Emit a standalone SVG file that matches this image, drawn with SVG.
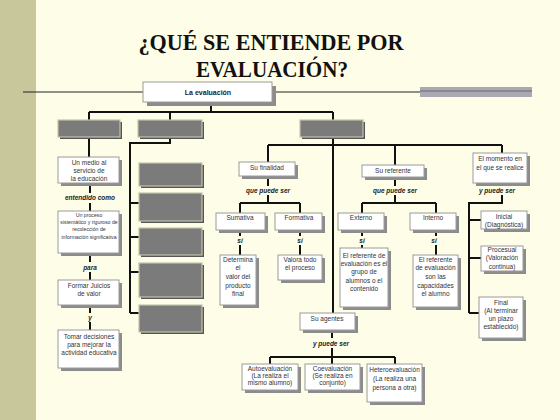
<svg xmlns="http://www.w3.org/2000/svg" width="560" height="420" viewBox="0 0 560 420">
<style>
.bg{fill:#FEFEE8}
.side{fill:#C8C79B}
.title{font-family:"Liberation Serif","Times New Roman",serif;font-weight:bold;font-size:24px;fill:#111;text-anchor:middle}
.wb{fill:#fff;stroke:#9a9a9a;stroke-width:1}
.sh{fill:#8c8c8c}
.gb{fill:#7b7b7b;stroke:#c4c3a8;stroke-width:1.2}
.gsh{fill:#555}
.t{font-family:"Liberation Sans",Arial,sans-serif;font-size:6.5px;fill:#333;text-anchor:middle}
.ts{font-family:"Liberation Sans",Arial,sans-serif;font-size:5.2px;fill:#333;text-anchor:middle}
.tb{font-family:"Liberation Sans",Arial,sans-serif;font-size:7px;font-weight:bold;fill:#222;text-anchor:middle}
.lab{font-family:"Liberation Sans",Arial,sans-serif;font-size:6.5px;font-weight:bold;font-style:italic;fill:#222;text-anchor:middle}
.c{fill:none;stroke:#111;stroke-width:2}
</style>
<rect class="bg" x="0" y="0" width="560" height="420"/>
<rect class="side" x="0" y="0" width="36" height="420"/>
<text class="title" x="271" y="50" textLength="265" lengthAdjust="spacingAndGlyphs">¿QUÉ SE ENTIENDE POR</text>
<text class="title" x="272" y="77" textLength="152" lengthAdjust="spacingAndGlyphs">EVALUACIÓN?</text>
<g id="rule">
<line x1="23" y1="92" x2="143" y2="92" stroke="#222" stroke-width="1.2"/>
<line x1="272" y1="92" x2="420" y2="92" stroke="#222" stroke-width="1.2"/>
<rect x="420" y="87" width="112" height="10" fill="#A9A9B4"/>
<line x1="420" y1="91" x2="532" y2="91" stroke="#555" stroke-width="0.8"/>
</g>
<g id="connectors">
<path class="c" d="M211 102V112M89 112H333M89 112V120M170 112V120M333 112V120"/>
<path class="c" d="M89 137V157"/>
<path class="c" d="M170 137V143H130V313M130 203H139M130 237H139M130 272H139M130 313H139"/>
<path class="c" d="M333 137V313"/>
<path class="c" d="M268 145H502M268 145V162M395 145V165M502 145V153"/>
<path class="c" d="M268 176V186M268 195V203M240 203H300M240 203V213M300 203V213"/>
<path class="c" d="M240 230V236M240 245V255M300 230V236M300 245V255"/>
<path class="c" d="M395 177V186M395 195V203M362 203H436M362 203V213M436 203V213"/>
<path class="c" d="M362 230V236M362 245V248M436 230V236M436 245V255"/>
<path class="c" d="M502 183V186M502 195V203H469V313M469 220H481M469 258H481M469 313H479"/>
<path class="c" d="M332 330V338M332 348V357M270 357H395M270 357V364M332 357V364M395 357V364"/>
<path class="c" d="M90 183V193M90 203V211M90 253V262M90 272V280M90 305V313M90 322V330"/>
</g>
<g id="labels">
<text class="lab" x="268" y="193">que puede ser</text>
<text class="lab" x="240" y="243">sí</text>
<text class="lab" x="300" y="243">sí</text>
<text class="lab" x="395" y="193">que puede ser</text>
<text class="lab" x="362" y="243">sí</text>
<text class="lab" x="434" y="243">sí</text>
<text class="lab" x="497" y="193">y puede ser</text>
<text class="lab" x="331" y="346">y puede ser</text>
<text class="lab" x="90" y="200">entendido como</text>
<text class="lab" x="90" y="270">para</text>
<text class="lab" x="90" y="320">y</text>
</g>
<g id="n-evaluacion">
<rect class="sh" x="147" y="86" width="129" height="20"/>
<rect class="wb" x="143" y="82" width="129" height="20"/>
<text class="tb" x="208" y="95">La evaluación</text>
</g>
<g id="g-top1"><rect class="gsh" x="60" y="122" width="62" height="17"/><rect class="gb" x="58" y="120" width="62" height="17"/></g>
<g id="g-top2"><rect class="gsh" x="140" y="122" width="64" height="17"/><rect class="gb" x="138" y="120" width="64" height="17"/></g>
<g id="g-top3"><rect class="gsh" x="302" y="122" width="63" height="17"/><rect class="gb" x="300" y="120" width="63" height="17"/></g>
<g id="g-a"><rect class="gsh" x="141" y="165" width="63" height="23"/><rect class="gb" x="139" y="163" width="63" height="23"/></g>
<g id="g-b"><rect class="gsh" x="141" y="195" width="63" height="28"/><rect class="gb" x="139" y="193" width="63" height="28"/></g>
<g id="g-c"><rect class="gsh" x="141" y="230" width="63" height="27"/><rect class="gb" x="139" y="228" width="63" height="27"/></g>
<g id="g-d"><rect class="gsh" x="141" y="265" width="63" height="34"/><rect class="gb" x="139" y="263" width="63" height="34"/></g>
<g id="g-e"><rect class="gsh" x="141" y="307" width="63" height="27"/><rect class="gb" x="139" y="305" width="63" height="27"/></g>
<g id="n-medio">
<rect class="sh" x="61" y="160" width="61" height="26"/><rect class="wb" x="58" y="157" width="61" height="26"/>
<text class="t" x="89" y="164.5">Un medio al</text><text class="t" x="89" y="172.5">servicio de</text><text class="t" x="89" y="180.5">la educación</text>
</g>
<g id="n-proceso">
<rect class="sh" x="61" y="214" width="61" height="42"/><rect class="wb" x="58" y="211" width="61" height="42"/>
<text class="ts" x="89" y="217">Un proceso</text><text class="ts" x="89" y="224">sistemático y riguroso de</text><text class="ts" x="89" y="231">recolección de</text><text class="ts" x="89" y="239">información significativa</text>
</g>
<g id="n-juicios">
<rect class="sh" x="61" y="283" width="61" height="25"/><rect class="wb" x="58" y="280" width="61" height="25"/>
<text class="t" x="89" y="287.5">Formar Juicios</text><text class="t" x="89" y="295.5">de valor</text>
</g>
<g id="n-decisiones">
<rect class="sh" x="61" y="333" width="61" height="38"/><rect class="wb" x="58" y="330" width="61" height="38"/>
<text class="t" x="89" y="338.5">Tomar decisiones</text><text class="t" x="89" y="346.5">para mejorar la</text><text class="t" x="89" y="354.5">actividad educativa</text>
</g>
<g id="n-finalidad">
<rect class="sh" x="242" y="165" width="56" height="14"/><rect class="wb" x="239" y="162" width="56" height="14"/>
<text class="t" x="267" y="170">Su finalidad</text>
</g>
<g id="n-sumativa">
<rect class="sh" x="219" y="216" width="49" height="17"/><rect class="wb" x="216" y="213" width="49" height="17"/>
<text class="t" x="240" y="219.5">Sumativa</text>
</g>
<g id="n-formativa">
<rect class="sh" x="278" y="216" width="47" height="17"/><rect class="wb" x="275" y="213" width="47" height="17"/>
<text class="t" x="299" y="219.5">Formativa</text>
</g>
<g id="n-determina">
<rect class="sh" x="223" y="258" width="36" height="50"/><rect class="wb" x="220" y="255" width="36" height="50"/>
<text class="t" x="238" y="261.5">Determina</text><text class="t" x="238" y="269.5">el</text><text class="t" x="238" y="278.5">valor del</text><text class="t" x="238" y="287.5">producto</text><text class="t" x="238" y="296">final</text>
</g>
<g id="n-valora">
<rect class="sh" x="281" y="258" width="44" height="25"/><rect class="wb" x="278" y="255" width="44" height="25"/>
<text class="t" x="300" y="261.5">Valora todo</text><text class="t" x="300" y="269.5">el proceso</text>
</g>
<g id="n-referente">
<rect class="sh" x="365" y="168" width="62" height="12"/><rect class="wb" x="362" y="165" width="62" height="12"/>
<text class="t" x="393" y="173">Su referente</text>
</g>
<g id="n-externo">
<rect class="sh" x="341" y="216" width="46" height="17"/><rect class="wb" x="338" y="213" width="46" height="17"/>
<text class="t" x="361" y="219.5">Externo</text>
</g>
<g id="n-interno">
<rect class="sh" x="413" y="216" width="46" height="17"/><rect class="wb" x="410" y="213" width="46" height="17"/>
<text class="t" x="433" y="219.5">Interno</text>
</g>
<g id="n-ref-externo">
<rect class="sh" x="343" y="251" width="48" height="59"/><rect class="wb" x="340" y="248" width="48" height="59"/>
<text class="t" x="364" y="257.5">El referente de</text><text class="t" x="364" y="265.5">evaluación es el</text><text class="t" x="364" y="274">grupo de</text><text class="t" x="364" y="282.5">alumnos o el</text><text class="t" x="364" y="291">contenido</text>
</g>
<g id="n-ref-interno">
<rect class="sh" x="416" y="258" width="45" height="52"/><rect class="wb" x="413" y="255" width="45" height="52"/>
<text class="t" x="435.5" y="261.5">El referente</text><text class="t" x="435.5" y="269.5">de evaluación</text><text class="t" x="435.5" y="278.5">son las</text><text class="t" x="435.5" y="287.5">capacidades</text><text class="t" x="435.5" y="296">el alumno</text>
</g>
<g id="n-momento">
<rect class="sh" x="476" y="156" width="54" height="30"/><rect class="wb" x="473" y="153" width="54" height="30"/>
<text class="t" x="500" y="160.5">El momento en</text><text class="t" x="500" y="169.5">el que se realice</text>
</g>
<g id="n-inicial">
<rect class="sh" x="484" y="214" width="46" height="18"/><rect class="wb" x="481" y="211" width="46" height="18"/>
<text class="t" x="504" y="218.5">Inicial</text><text class="t" x="504" y="227">(Diagnóstica)</text>
</g>
<g id="n-procesual">
<rect class="sh" x="484" y="249" width="42" height="25"/><rect class="wb" x="481" y="246" width="42" height="25"/>
<text class="t" x="502" y="251.5">Procesual</text><text class="t" x="502" y="260">(Valoración</text><text class="t" x="502" y="268.5">continua)</text>
</g>
<g id="n-final">
<rect class="sh" x="482" y="300" width="44" height="41"/><rect class="wb" x="479" y="297" width="44" height="41"/>
<text class="t" x="501" y="304.5">Final</text><text class="t" x="501" y="312.5">(Al terminar</text><text class="t" x="501" y="320.5">un plazo</text><text class="t" x="501" y="329">establecido)</text>
</g>
<g id="n-agentes">
<rect class="sh" x="303" y="316" width="55" height="17"/><rect class="wb" x="300" y="313" width="55" height="17"/>
<text class="t" x="327" y="320.5">Su agentes</text>
</g>
<g id="n-auto">
<rect class="sh" x="245" y="367" width="56" height="26"/><rect class="wb" x="242" y="364" width="56" height="26"/>
<text class="t" x="270" y="370.5">Autoevaluación</text><text class="t" x="270" y="377.5">(La realiza el</text><text class="t" x="270" y="384.5">mismo alumno)</text>
</g>
<g id="n-co">
<rect class="sh" x="308" y="367" width="55" height="26"/><rect class="wb" x="305" y="364" width="55" height="26"/>
<text class="t" x="332.5" y="370.5">Coevaluación</text><text class="t" x="332.5" y="377.5">(Se realiza en</text><text class="t" x="332.5" y="384.5">conjunto)</text>
</g>
<g id="n-hetero">
<rect class="sh" x="370" y="367" width="55" height="38"/><rect class="wb" x="367" y="364" width="55" height="38"/>
<text class="t" x="394.5" y="372">Heteroevaluación</text><text class="t" x="394.5" y="381">(La realiza una</text><text class="t" x="394.5" y="390">persona a otra)</text>
</g>
</svg>
